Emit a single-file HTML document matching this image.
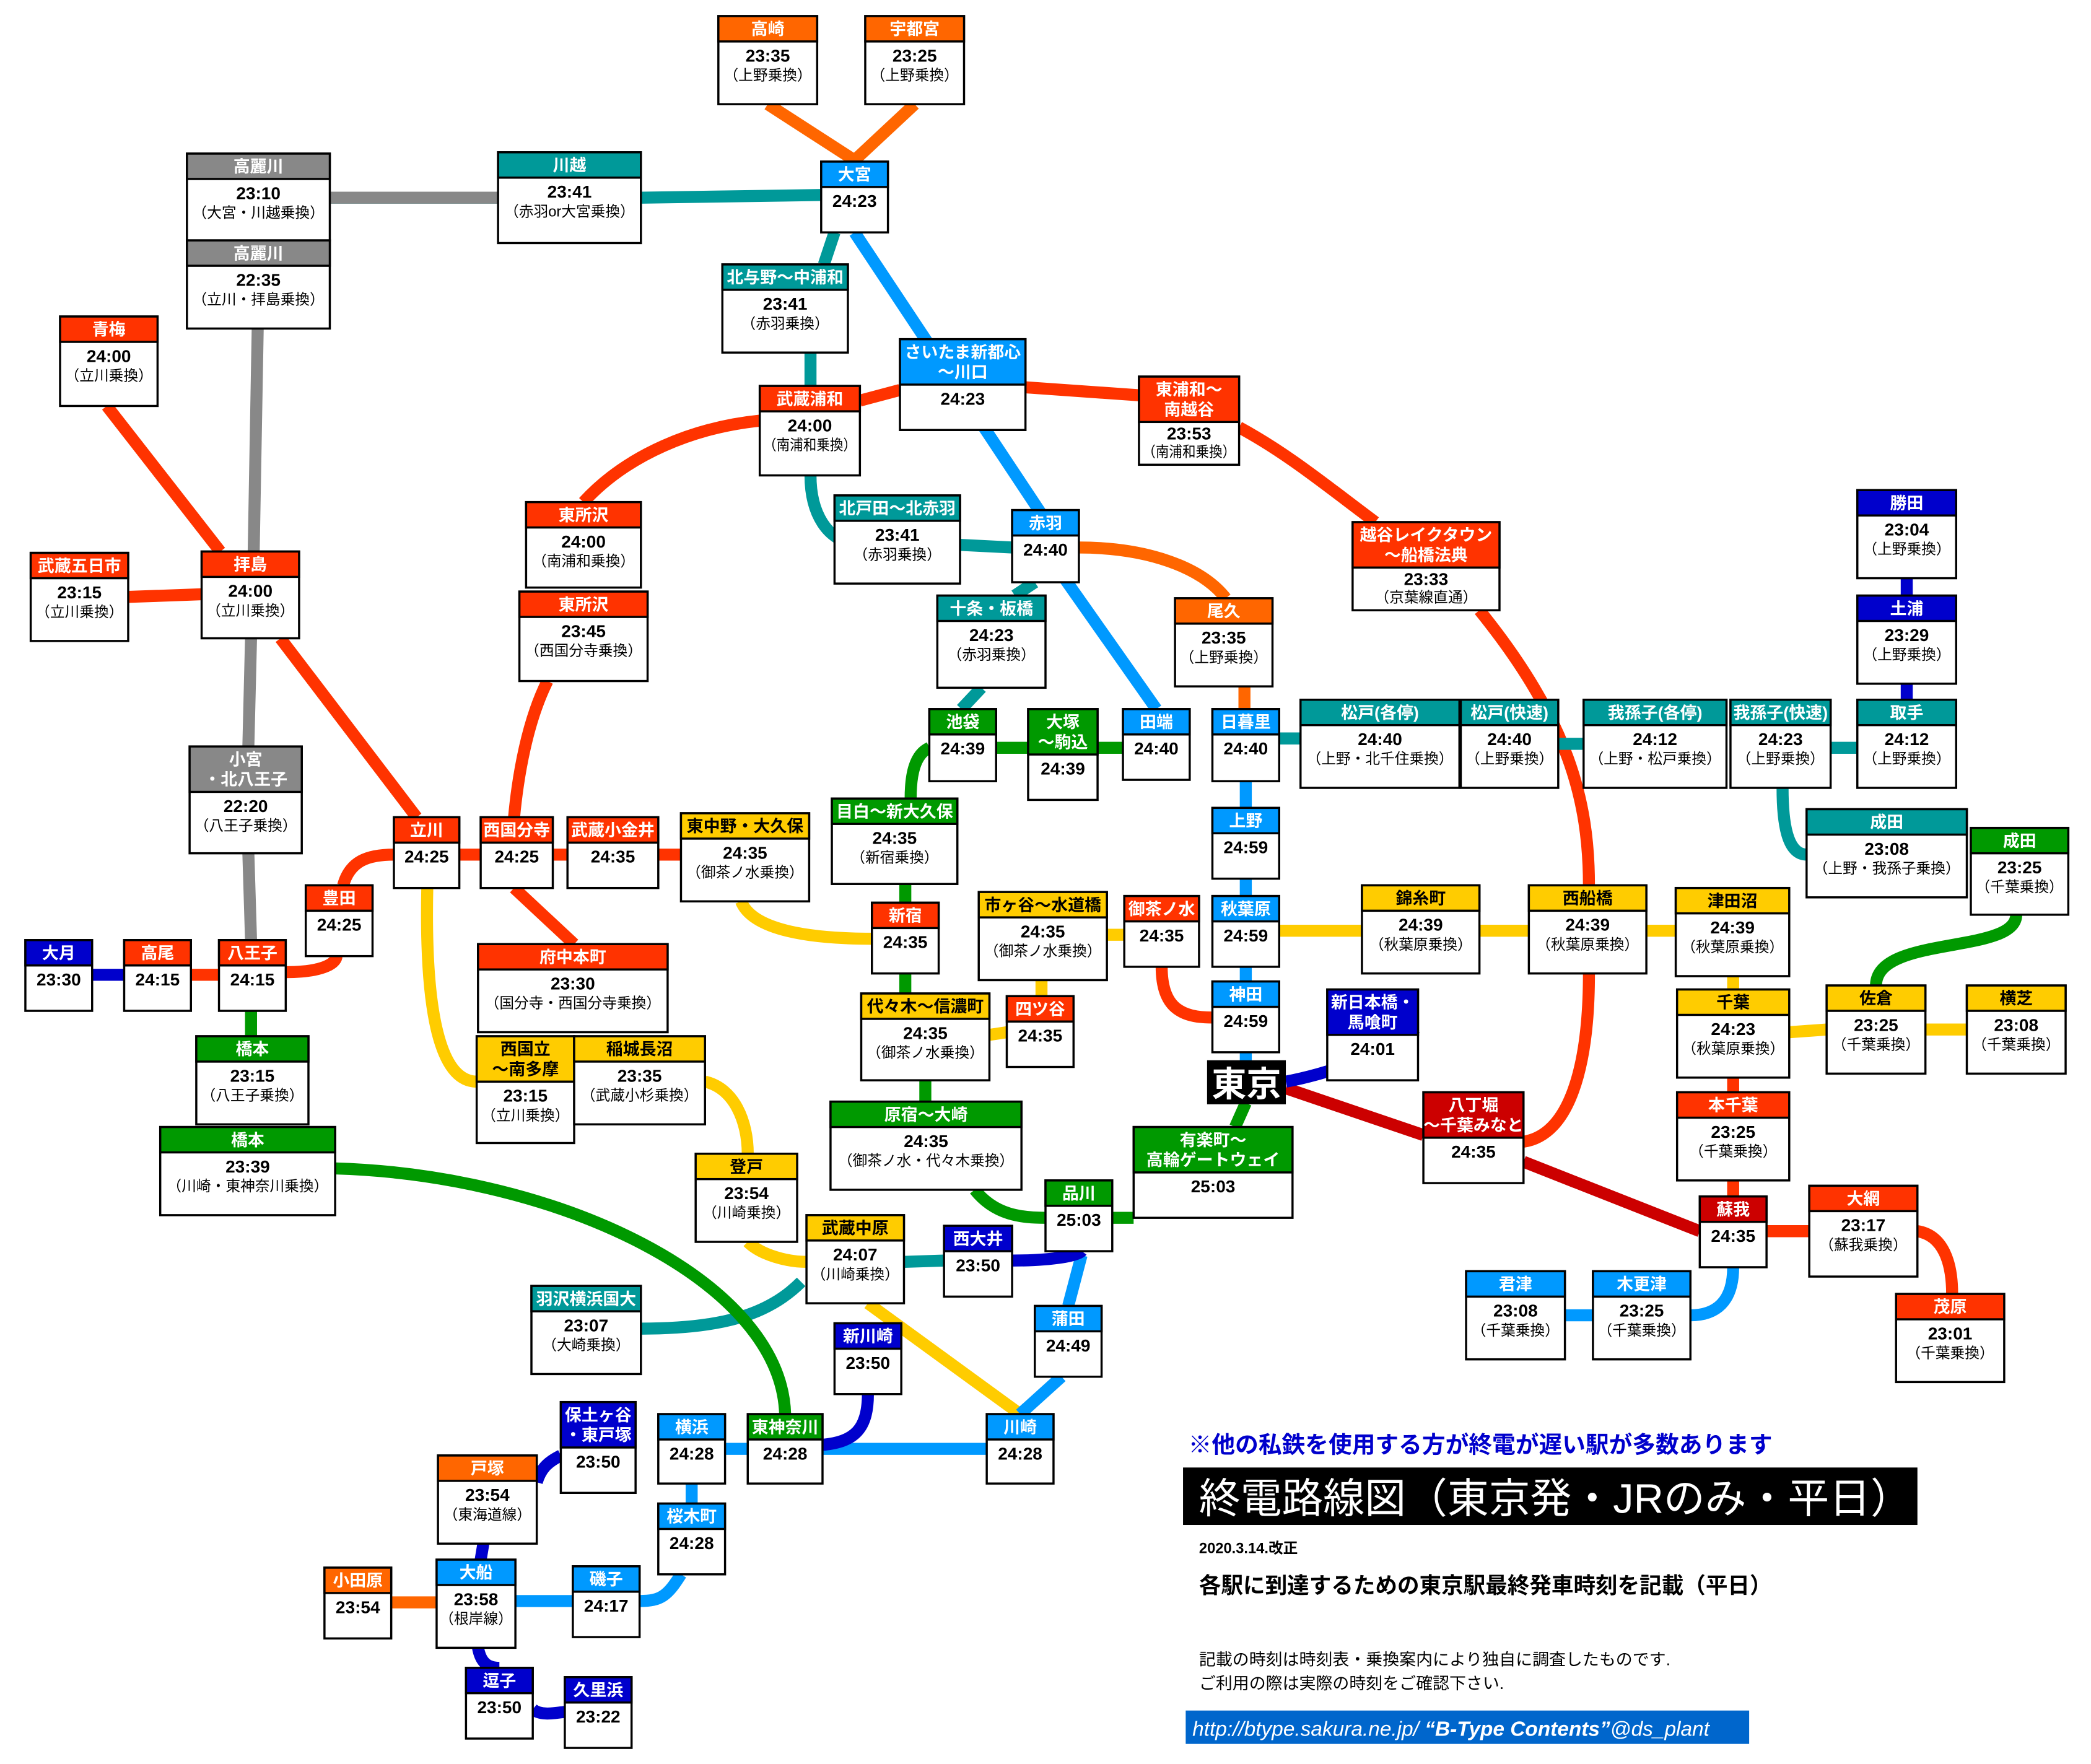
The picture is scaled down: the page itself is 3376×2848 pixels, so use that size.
<!DOCTYPE html>
<html><head><meta charset="utf-8">
<style>
html,body{margin:0;padding:0;background:#fff;}
svg{display:block;}
text{font-family:"Liberation Sans","Noto Sans CJK JP",sans-serif;text-anchor:middle;}
.h{font-size:12.5px;font-weight:bold;fill:#fff;}
.hk{font-size:12.5px;font-weight:bold;fill:#000;}
.t{font-size:13px;font-weight:bold;fill:#000;}
.n{font-size:11px;fill:#000;}
.b{fill:#fff;stroke:#000;stroke-width:1.6;}
.l{fill:none;stroke-width:9;stroke-linecap:butt;}
</style></head><body>
<svg width="3376" height="2848" viewBox="0 0 1566 1321" xmlns="http://www.w3.org/2000/svg">
<rect width="1566" height="1321" fill="#fff"/>
<!-- LINES -->
<g class="lines">
<path class="l" stroke="#f60" d="M575,78 L640,120 L685,78"/>
<path class="l" stroke="#099" d="M247,148 L373,148 M480,148 L615,146"/>
<path class="l" stroke="#888" d="M247,148 L373,148"/>
<path class="l" stroke="#09f" d="M640,174 L790,400 M795,430 L866,531 M933,584 L933,605 M933,658 L933,671 M933,724 L933,735 M933,788 L933,796"/>
<path class="l" stroke="#099" d="M625,174 L617,198 M607,264 L607,289 M607,356 C607,385 620,405 640,407 M719,408 L758,410 M775,436 L760,446 M735,515 L720,531"/>
<path class="l" stroke="#f60" d="M808,410 C860,410 900,425 918,448 M932,514 L932,531"/>
<path class="l" stroke="#090" d="M696,560 C685,565 682,580 682,598 M746,560 L770,560 M822,560 L841,560 M678,662 L678,676 M678,729 L678,744 M693,809 L693,825 M730,891 C745,910 765,912 783,912 M833,912 L849,912 M925,844 L933,826"/>
<path class="l" stroke="#f30" d="M437,376 C470,340 520,320 569,315 M644,300 L674,292 M768,290 L853,296 M928,320 C965,340 995,365 1030,391 M410,510 C395,540 388,580 385,612 M385,665 L430,707 M1108,457 C1175,540 1190,600 1190,663 M1190,729 C1190,800 1175,850 1141,855"/>
<path class="l" stroke="#888" d="M193,246 L190,413 M188,478 L186,559 M186,639 L188,704"/>
<path class="l" stroke="#f30" d="M80,304 L165,413 M96,447 L151,445 M210,478 L312,612"/>
<path class="l" stroke="#f30" d="M214,728 C245,728 252,720 252,716 M257,663 C262,645 275,640 295,640 M344,640 L360,640 M414,640 L425,640 M493,640 L510,640 M143,730 L164,730"/>
<path class="l" stroke="#00c" d="M69,730 L93,730 M1428,433 L1428,446 M1428,512 L1428,524"/>
<path class="l" stroke="#090" d="M188,757 L188,776"/>
<path class="l" stroke="#fc0" d="M555,675 C565,700 620,703 653,703 M741,775 L754,773 M829,700 L842,700 M958,697 L1020,697 M1108,697 L1145,697 M1233,697 L1255,697 M1298,731 L1298,741 M1340,773 L1368,771 M1442,771 L1473,771 M780,734 L780,746 M320,665 C318,760 330,810 357,810 M528,810 C550,815 560,840 560,864 M560,930 C570,940 590,945 604,945 M650,976 L764,1059"/>
<path class="l" stroke="#f30" d="M870,724 C870,755 885,762 908,762 M1298,807 L1298,818 M1298,884 L1298,896 M1323,922 L1355,922 M1436,922 C1455,925 1462,945 1462,969"/>
<path class="l" stroke="#c00" d="M963,815 L1066,850 M1141,870 L1273,922"/>
<path class="l" stroke="#09f" d="M1298,949 C1298,975 1285,985 1266,985 M1172,985 L1193,985 M810,940 L800,978 M795,1031 L764,1059 M739,1085 L616,1085 M560,1085 L543,1085 M518,1111 L518,1126 M510,1179 C500,1195 495,1199 479,1199 M429,1199 L386,1199"/>
<path class="l" stroke="#00c" d="M963,810 C990,805 1040,790 1060,770 M758,944 C790,944 808,940 810,937 M650,1044 C650,1070 640,1080 616,1082 M420,1090 C410,1095 405,1100 402,1110 M362,1156 L360,1168 M358,1234 C360,1245 365,1249 374,1249 M399,1280 C405,1285 415,1283 423,1282"/>
<path class="l" stroke="#099" d="M958,553 L974,553 M1167,557 L1186,557 M1371,560 L1391,560 M1335,590 C1335,615 1338,640 1353,640 M480,995 C540,995 575,985 600,960 M677,945 L707,944"/>
<path class="l" stroke="#090" d="M1510,685 C1510,715 1405,700 1405,738 M251,875 C420,880 585,960 588,1059"/>
<path class="l" stroke="#f60" d="M293,1200 L327,1200"/>
</g>
<!-- BOXES -->
<svg x="538" y="12" width="74" height="66" overflow="visible"><rect class="b" width="100%" height="100%"/><rect class="b" width="100%" height="19" fill="#f60" style="fill:#f60"/><text x="50%" y="14" class="h">高崎</text><text x="50%" y="34" class="t">23:35</text><text x="50%" y="48" class="n">（上野乗換）</text></svg>
<svg x="648" y="12" width="74" height="66" overflow="visible"><rect class="b" width="100%" height="100%"/><rect class="b" width="100%" height="19" style="fill:#f60"/><text x="50%" y="14" class="h">宇都宮</text><text x="50%" y="34" class="t">23:25</text><text x="50%" y="48" class="n">（上野乗換）</text></svg>
<svg x="615" y="121" width="50" height="53" overflow="visible"><rect class="b" width="100%" height="100%"/><rect class="b" width="100%" height="19" style="fill:#09f"/><text x="50%" y="14" class="h">大宮</text><text x="50%" y="34" class="t">24:23</text></svg>
<svg x="373" y="114" width="107" height="68" overflow="visible"><rect class="b" width="100%" height="100%"/><rect class="b" width="100%" height="19" style="fill:#099"/><text x="50%" y="14" class="h">川越</text><text x="50%" y="34" class="t">23:41</text><text x="50%" y="48" class="n">（赤羽or大宮乗換）</text></svg>
<svg x="140" y="115" width="107" height="65" overflow="visible"><rect class="b" width="100%" height="100%"/><rect class="b" width="100%" height="19" style="fill:#888"/><text x="50%" y="14" class="h">高麗川</text><text x="50%" y="34" class="t">23:10</text><text x="50%" y="48" class="n">（大宮・川越乗換）</text></svg>
<svg x="140" y="180" width="107" height="66" overflow="visible"><rect class="b" width="100%" height="100%"/><rect class="b" width="100%" height="19" style="fill:#888"/><text x="50%" y="14" class="h">高麗川</text><text x="50%" y="34" class="t">22:35</text><text x="50%" y="48" class="n">（立川・拝島乗換）</text></svg>
<svg x="45" y="237" width="73" height="67" overflow="visible"><rect class="b" width="100%" height="100%"/><rect class="b" width="100%" height="19" style="fill:#f30"/><text x="50%" y="14" class="h">青梅</text><text x="50%" y="34" class="t">24:00</text><text x="50%" y="48" class="n">（立川乗換）</text></svg>
<svg x="541" y="198" width="94" height="66" overflow="visible"><rect class="b" width="100%" height="100%"/><rect class="b" width="100%" height="19" style="fill:#099"/><text x="50%" y="14" class="h">北与野～中浦和</text><text x="50%" y="34" class="t">23:41</text><text x="50%" y="48" class="n">（赤羽乗換）</text></svg>
<svg x="674" y="254" width="94" height="68" overflow="visible"><rect class="b" width="100%" height="100%"/><rect class="b" width="100%" height="34" style="fill:#09f"/><text x="50%" y="14" class="h">さいたま新都心</text><text x="50%" y="29" class="h">～川口</text><text x="50%" y="49" class="t">24:23</text></svg>
<svg x="569" y="289" width="75" height="67" overflow="visible"><rect class="b" width="100%" height="100%"/><rect class="b" width="100%" height="19" style="fill:#f30"/><text x="50%" y="14" class="h">武蔵浦和</text><text x="50%" y="34" class="t">24:00</text><text x="50%" y="48" class="n" textLength="70" lengthAdjust="spacingAndGlyphs">（南浦和乗換）</text></svg>
<svg x="853" y="282" width="75" height="66" overflow="visible"><rect class="b" width="100%" height="100%"/><rect class="b" width="100%" height="34" style="fill:#f30"/><text x="50%" y="14" class="h">東浦和～</text><text x="50%" y="29" class="h">南越谷</text><text x="50%" y="47" class="t">23:53</text><text x="50%" y="60" class="n" textLength="70" lengthAdjust="spacingAndGlyphs">（南浦和乗換）</text></svg>
<svg x="394" y="376" width="86" height="64" overflow="visible"><rect class="b" width="100%" height="100%"/><rect class="b" width="100%" height="19" style="fill:#f30"/><text x="50%" y="14" class="h">東所沢</text><text x="50%" y="34" class="t">24:00</text><text x="50%" y="48" class="n">（南浦和乗換）</text></svg>
<svg x="389" y="443" width="96" height="67" overflow="visible"><rect class="b" width="100%" height="100%"/><rect class="b" width="100%" height="19" style="fill:#f30"/><text x="50%" y="14" class="h">東所沢</text><text x="50%" y="34" class="t">23:45</text><text x="50%" y="48" class="n">（西国分寺乗換）</text></svg>
<svg x="625" y="371" width="94" height="66" overflow="visible"><rect class="b" width="100%" height="100%"/><rect class="b" width="100%" height="19" style="fill:#099"/><text x="50%" y="14" class="h">北戸田～北赤羽</text><text x="50%" y="34" class="t">23:41</text><text x="50%" y="48" class="n">（赤羽乗換）</text></svg>
<svg x="758" y="382" width="50" height="54" overflow="visible"><rect class="b" width="100%" height="100%"/><rect class="b" width="100%" height="19" style="fill:#09f"/><text x="50%" y="14" class="h">赤羽</text><text x="50%" y="34" class="t">24:40</text></svg>
<svg x="1013" y="391" width="110" height="66" overflow="visible"><rect class="b" width="100%" height="100%"/><rect class="b" width="100%" height="34" style="fill:#f30"/><text x="50%" y="14" class="h">越谷レイクタウン</text><text x="50%" y="29" class="h">～船橋法典</text><text x="50%" y="47" class="t">23:33</text><text x="50%" y="60" class="n">（京葉線直通）</text></svg>
<svg x="1391" y="367" width="74" height="66" overflow="visible"><rect class="b" width="100%" height="100%"/><rect class="b" width="100%" height="19" style="fill:#00c"/><text x="50%" y="14" class="h">勝田</text><text x="50%" y="34" class="t">23:04</text><text x="50%" y="48" class="n">（上野乗換）</text></svg>
<svg x="1391" y="446" width="74" height="66" overflow="visible"><rect class="b" width="100%" height="100%"/><rect class="b" width="100%" height="19" style="fill:#00c"/><text x="50%" y="14" class="h">土浦</text><text x="50%" y="34" class="t">23:29</text><text x="50%" y="48" class="n">（上野乗換）</text></svg>
<svg x="151" y="413" width="73" height="65" overflow="visible"><rect class="b" width="100%" height="100%"/><rect class="b" width="100%" height="19" style="fill:#f30"/><text x="50%" y="14" class="h">拝島</text><text x="50%" y="34" class="t">24:00</text><text x="50%" y="48" class="n">（立川乗換）</text></svg>
<svg x="23" y="414" width="73" height="66" overflow="visible"><rect class="b" width="100%" height="100%"/><rect class="b" width="100%" height="19" style="fill:#f30"/><text x="50%" y="14" class="h">武蔵五日市</text><text x="50%" y="34" class="t">23:15</text><text x="50%" y="48" class="n">（立川乗換）</text></svg>
<svg x="702" y="446" width="81" height="69" overflow="visible"><rect class="b" width="100%" height="100%"/><rect class="b" width="100%" height="19" style="fill:#099"/><text x="50%" y="14" class="h">十条・板橋</text><text x="50%" y="34" class="t">24:23</text><text x="50%" y="48" class="n">（赤羽乗換）</text></svg>
<svg x="880" y="448" width="73" height="66" overflow="visible"><rect class="b" width="100%" height="100%"/><rect class="b" width="100%" height="19" style="fill:#f60"/><text x="50%" y="14" class="h">尾久</text><text x="50%" y="34" class="t">23:35</text><text x="50%" y="48" class="n">（上野乗換）</text></svg>
<svg x="696" y="531" width="50" height="54" overflow="visible"><rect class="b" width="100%" height="100%"/><rect class="b" width="100%" height="19" style="fill:#090"/><text x="50%" y="14" class="h">池袋</text><text x="50%" y="34" class="t">24:39</text></svg>
<svg x="770" y="531" width="52" height="68" overflow="visible"><rect class="b" width="100%" height="100%"/><rect class="b" width="100%" height="34" style="fill:#090"/><text x="50%" y="14" class="h">大塚</text><text x="50%" y="29" class="h">～駒込</text><text x="50%" y="49" class="t">24:39</text></svg>
<svg x="841" y="531" width="50" height="53" overflow="visible"><rect class="b" width="100%" height="100%"/><rect class="b" width="100%" height="19" style="fill:#09f"/><text x="50%" y="14" class="h">田端</text><text x="50%" y="34" class="t">24:40</text></svg>
<svg x="908" y="531" width="50" height="54" overflow="visible"><rect class="b" width="100%" height="100%"/><rect class="b" width="100%" height="19" style="fill:#09f"/><text x="50%" y="14" class="h">日暮里</text><text x="50%" y="34" class="t">24:40</text></svg>
<svg x="974" y="524" width="119" height="66" overflow="visible"><rect class="b" width="100%" height="100%"/><rect class="b" width="100%" height="19" style="fill:#099"/><text x="50%" y="14" class="h">松戸(各停)</text><text x="50%" y="34" class="t">24:40</text><text x="50%" y="48" class="n">（上野・北千住乗換）</text></svg>
<svg x="1094" y="524" width="73" height="66" overflow="visible"><rect class="b" width="100%" height="100%"/><rect class="b" width="100%" height="19" style="fill:#099"/><text x="50%" y="14" class="h">松戸(快速)</text><text x="50%" y="34" class="t">24:40</text><text x="50%" y="48" class="n">（上野乗換）</text></svg>
<svg x="1186" y="524" width="107" height="66" overflow="visible"><rect class="b" width="100%" height="100%"/><rect class="b" width="100%" height="19" style="fill:#099"/><text x="50%" y="14" class="h">我孫子(各停)</text><text x="50%" y="34" class="t">24:12</text><text x="50%" y="48" class="n">（上野・松戸乗換）</text></svg>
<svg x="1296" y="524" width="75" height="66" overflow="visible"><rect class="b" width="100%" height="100%"/><rect class="b" width="100%" height="19" style="fill:#099"/><text x="50%" y="14" class="h">我孫子(快速)</text><text x="50%" y="34" class="t">24:23</text><text x="50%" y="48" class="n">（上野乗換）</text></svg>
<svg x="1391" y="524" width="74" height="66" overflow="visible"><rect class="b" width="100%" height="100%"/><rect class="b" width="100%" height="19" style="fill:#099"/><text x="50%" y="14" class="h">取手</text><text x="50%" y="34" class="t">24:12</text><text x="50%" y="48" class="n">（上野乗換）</text></svg>
<svg x="142" y="559" width="84" height="80" overflow="visible"><rect class="b" width="100%" height="100%"/><rect class="b" width="100%" height="34" style="fill:#888"/><text x="50%" y="14" class="h">小宮</text><text x="50%" y="29" class="h">・北八王子</text><text x="50%" y="49" class="t">22:20</text><text x="50%" y="63" class="n">（八王子乗換）</text></svg>
<svg x="623" y="598" width="94" height="64" overflow="visible"><rect class="b" width="100%" height="100%"/><rect class="b" width="100%" height="19" style="fill:#090"/><text x="50%" y="14" class="h">目白～新大久保</text><text x="50%" y="34" class="t">24:35</text><text x="50%" y="48" class="n">（新宿乗換）</text></svg>
<svg x="1353" y="606" width="120" height="66" overflow="visible"><rect class="b" width="100%" height="100%"/><rect class="b" width="100%" height="19" style="fill:#099"/><text x="50%" y="14" class="h">成田</text><text x="50%" y="34" class="t">23:08</text><text x="50%" y="48" class="n">（上野・我孫子乗換）</text></svg>
<svg x="1476" y="620" width="73" height="65" overflow="visible"><rect class="b" width="100%" height="100%"/><rect class="b" width="100%" height="19" style="fill:#090"/><text x="50%" y="14" class="h">成田</text><text x="50%" y="34" class="t">23:25</text><text x="50%" y="48" class="n">（千葉乗換）</text></svg>
<svg x="295" y="612" width="49" height="53" overflow="visible"><rect class="b" width="100%" height="100%"/><rect class="b" width="100%" height="19" style="fill:#f30"/><text x="50%" y="14" class="h">立川</text><text x="50%" y="34" class="t">24:25</text></svg>
<svg x="360" y="612" width="54" height="53" overflow="visible"><rect class="b" width="100%" height="100%"/><rect class="b" width="100%" height="19" style="fill:#f30"/><text x="50%" y="14" class="h">西国分寺</text><text x="50%" y="34" class="t">24:25</text></svg>
<svg x="425" y="612" width="68" height="53" overflow="visible"><rect class="b" width="100%" height="100%"/><rect class="b" width="100%" height="19" style="fill:#f30"/><text x="50%" y="14" class="h">武蔵小金井</text><text x="50%" y="34" class="t">24:35</text></svg>
<svg x="510" y="609" width="96" height="66" overflow="visible"><rect class="b" width="100%" height="100%"/><rect class="b" width="100%" height="19" style="fill:#fc0"/><text x="50%" y="14" class="hk">東中野・大久保</text><text x="50%" y="34" class="t">24:35</text><text x="50%" y="48" class="n">（御茶ノ水乗換）</text></svg>
<svg x="229" y="663" width="50" height="53" overflow="visible"><rect class="b" width="100%" height="100%"/><rect class="b" width="100%" height="19" style="fill:#f30"/><text x="50%" y="14" class="h">豊田</text><text x="50%" y="34" class="t">24:25</text></svg>
<svg x="653" y="676" width="50" height="53" overflow="visible"><rect class="b" width="100%" height="100%"/><rect class="b" width="100%" height="19" style="fill:#f30"/><text x="50%" y="14" class="h">新宿</text><text x="50%" y="34" class="t">24:35</text></svg>
<svg x="733" y="668" width="96" height="66" overflow="visible"><rect class="b" width="100%" height="100%"/><rect class="b" width="100%" height="19" style="fill:#fc0"/><text x="50%" y="14" class="hk">市ヶ谷～水道橋</text><text x="50%" y="34" class="t">24:35</text><text x="50%" y="48" class="n">（御茶ノ水乗換）</text></svg>
<svg x="842" y="671" width="56" height="53" overflow="visible"><rect class="b" width="100%" height="100%"/><rect class="b" width="100%" height="19" style="fill:#f30"/><text x="50%" y="14" class="h">御茶ノ水</text><text x="50%" y="34" class="t">24:35</text></svg>
<svg x="908" y="605" width="50" height="53" overflow="visible"><rect class="b" width="100%" height="100%"/><rect class="b" width="100%" height="19" style="fill:#09f"/><text x="50%" y="14" class="h">上野</text><text x="50%" y="34" class="t">24:59</text></svg>
<svg x="908" y="671" width="50" height="53" overflow="visible"><rect class="b" width="100%" height="100%"/><rect class="b" width="100%" height="19" style="fill:#09f"/><text x="50%" y="14" class="h">秋葉原</text><text x="50%" y="34" class="t">24:59</text></svg>
<svg x="1020" y="663" width="88" height="66" overflow="visible"><rect class="b" width="100%" height="100%"/><rect class="b" width="100%" height="19" style="fill:#fc0"/><text x="50%" y="14" class="hk">錦糸町</text><text x="50%" y="34" class="t">24:39</text><text x="50%" y="48" class="n">（秋葉原乗換）</text></svg>
<svg x="1145" y="663" width="88" height="66" overflow="visible"><rect class="b" width="100%" height="100%"/><rect class="b" width="100%" height="19" style="fill:#fc0"/><text x="50%" y="14" class="hk">西船橋</text><text x="50%" y="34" class="t">24:39</text><text x="50%" y="48" class="n">（秋葉原乗換）</text></svg>
<svg x="1255" y="665" width="85" height="66" overflow="visible"><rect class="b" width="100%" height="100%"/><rect class="b" width="100%" height="19" style="fill:#fc0"/><text x="50%" y="14" class="hk">津田沼</text><text x="50%" y="34" class="t">24:39</text><text x="50%" y="48" class="n">（秋葉原乗換）</text></svg>
<svg x="19" y="704" width="50" height="53" overflow="visible"><rect class="b" width="100%" height="100%"/><rect class="b" width="100%" height="19" style="fill:#00c"/><text x="50%" y="14" class="h">大月</text><text x="50%" y="34" class="t">23:30</text></svg>
<svg x="93" y="704" width="50" height="53" overflow="visible"><rect class="b" width="100%" height="100%"/><rect class="b" width="100%" height="19" style="fill:#f30"/><text x="50%" y="14" class="h">高尾</text><text x="50%" y="34" class="t">24:15</text></svg>
<svg x="164" y="704" width="50" height="53" overflow="visible"><rect class="b" width="100%" height="100%"/><rect class="b" width="100%" height="19" style="fill:#f30"/><text x="50%" y="14" class="h">八王子</text><text x="50%" y="34" class="t">24:15</text></svg>
<svg x="358" y="707" width="142" height="66" overflow="visible"><rect class="b" width="100%" height="100%"/><rect class="b" width="100%" height="19" style="fill:#f30"/><text x="50%" y="14" class="h">府中本町</text><text x="50%" y="34" class="t">23:30</text><text x="50%" y="48" class="n">（国分寺・西国分寺乗換）</text></svg>
<svg x="645" y="744" width="96" height="65" overflow="visible"><rect class="b" width="100%" height="100%"/><rect class="b" width="100%" height="19" style="fill:#fc0"/><text x="50%" y="14" class="hk">代々木～信濃町</text><text x="50%" y="34" class="t">24:35</text><text x="50%" y="48" class="n">（御茶ノ水乗換）</text></svg>
<svg x="754" y="746" width="50" height="53" overflow="visible"><rect class="b" width="100%" height="100%"/><rect class="b" width="100%" height="19" style="fill:#f30"/><text x="50%" y="14" class="h">四ツ谷</text><text x="50%" y="34" class="t">24:35</text></svg>
<svg x="908" y="735" width="50" height="53" overflow="visible"><rect class="b" width="100%" height="100%"/><rect class="b" width="100%" height="19" style="fill:#09f"/><text x="50%" y="14" class="h">神田</text><text x="50%" y="34" class="t">24:59</text></svg>
<svg x="994" y="741" width="68" height="68" overflow="visible"><rect class="b" width="100%" height="100%"/><rect class="b" width="100%" height="34" style="fill:#00c"/><text x="50%" y="14" class="h">新日本橋・</text><text x="50%" y="29" class="h">馬喰町</text><text x="50%" y="49" class="t">24:01</text></svg>
<svg x="1256" y="741" width="84" height="66" overflow="visible"><rect class="b" width="100%" height="100%"/><rect class="b" width="100%" height="19" style="fill:#fc0"/><text x="50%" y="14" class="hk">千葉</text><text x="50%" y="34" class="t">24:23</text><text x="50%" y="48" class="n">（秋葉原乗換）</text></svg>
<svg x="1368" y="738" width="74" height="66" overflow="visible"><rect class="b" width="100%" height="100%"/><rect class="b" width="100%" height="19" style="fill:#fc0"/><text x="50%" y="14" class="hk">佐倉</text><text x="50%" y="34" class="t">23:25</text><text x="50%" y="48" class="n">（千葉乗換）</text></svg>
<svg x="1473" y="738" width="74" height="66" overflow="visible"><rect class="b" width="100%" height="100%"/><rect class="b" width="100%" height="19" style="fill:#fc0"/><text x="50%" y="14" class="hk">横芝</text><text x="50%" y="34" class="t">23:08</text><text x="50%" y="48" class="n">（千葉乗換）</text></svg>
<svg x="147" y="776" width="84" height="66" overflow="visible"><rect class="b" width="100%" height="100%"/><rect class="b" width="100%" height="19" style="fill:#090"/><text x="50%" y="14" class="h">橋本</text><text x="50%" y="34" class="t">23:15</text><text x="50%" y="48" class="n">（八王子乗換）</text></svg>
<svg x="357" y="776" width="73" height="80" overflow="visible"><rect class="b" width="100%" height="100%"/><rect class="b" width="100%" height="34" style="fill:#fc0"/><text x="50%" y="14" class="hk">西国立</text><text x="50%" y="29" class="hk">～南多摩</text><text x="50%" y="49" class="t">23:15</text><text x="50%" y="63" class="n">（立川乗換）</text></svg>
<svg x="430" y="776" width="98" height="66" overflow="visible"><rect class="b" width="100%" height="100%"/><rect class="b" width="100%" height="19" style="fill:#fc0"/><text x="50%" y="14" class="hk">稲城長沼</text><text x="50%" y="34" class="t">23:35</text><text x="50%" y="48" class="n">（武蔵小杉乗換）</text></svg>
<svg x="1256" y="818" width="84" height="66" overflow="visible"><rect class="b" width="100%" height="100%"/><rect class="b" width="100%" height="19" style="fill:#f30"/><text x="50%" y="14" class="h">本千葉</text><text x="50%" y="34" class="t">23:25</text><text x="50%" y="48" class="n">（千葉乗換）</text></svg>
<svg x="1066" y="818" width="75" height="68" overflow="visible"><rect class="b" width="100%" height="100%"/><rect class="b" width="100%" height="34" style="fill:#c00"/><text x="50%" y="14" class="h">八丁堀</text><text x="50%" y="29" class="h">～千葉みなと</text><text x="50%" y="49" class="t">24:35</text></svg>
<svg x="622" y="825" width="143" height="66" overflow="visible"><rect class="b" width="100%" height="100%"/><rect class="b" width="100%" height="19" style="fill:#090"/><text x="50%" y="14" class="h">原宿～大崎</text><text x="50%" y="34" class="t">24:35</text><text x="50%" y="48" class="n">（御茶ノ水・代々木乗換）</text></svg>
<svg x="120" y="844" width="131" height="66" overflow="visible"><rect class="b" width="100%" height="100%"/><rect class="b" width="100%" height="19" style="fill:#090"/><text x="50%" y="14" class="h">橋本</text><text x="50%" y="34" class="t">23:39</text><text x="50%" y="48" class="n">（川崎・東神奈川乗換）</text></svg>
<svg x="849" y="844" width="119" height="68" overflow="visible"><rect class="b" width="100%" height="100%"/><rect class="b" width="100%" height="34" style="fill:#090"/><text x="50%" y="14" class="h">有楽町～</text><text x="50%" y="29" class="h">高輪ゲートウェイ</text><text x="50%" y="49" class="t">25:03</text></svg>
<svg x="521" y="864" width="76" height="66" overflow="visible"><rect class="b" width="100%" height="100%"/><rect class="b" width="100%" height="19" style="fill:#fc0"/><text x="50%" y="14" class="hk">登戸</text><text x="50%" y="34" class="t">23:54</text><text x="50%" y="48" class="n">（川崎乗換）</text></svg>
<svg x="783" y="884" width="50" height="53" overflow="visible"><rect class="b" width="100%" height="100%"/><rect class="b" width="100%" height="19" style="fill:#090"/><text x="50%" y="14" class="h">品川</text><text x="50%" y="34" class="t">25:03</text></svg>
<svg x="1273" y="896" width="50" height="53" overflow="visible"><rect class="b" width="100%" height="100%"/><rect class="b" width="100%" height="19" style="fill:#c00"/><text x="50%" y="14" class="h">蘇我</text><text x="50%" y="34" class="t">24:35</text></svg>
<svg x="1355" y="888" width="81" height="68" overflow="visible"><rect class="b" width="100%" height="100%"/><rect class="b" width="100%" height="19" style="fill:#f30"/><text x="50%" y="14" class="h">大網</text><text x="50%" y="34" class="t">23:17</text><text x="50%" y="48" class="n">（蘇我乗換）</text></svg>
<svg x="604" y="910" width="73" height="66" overflow="visible"><rect class="b" width="100%" height="100%"/><rect class="b" width="100%" height="19" style="fill:#fc0"/><text x="50%" y="14" class="hk">武蔵中原</text><text x="50%" y="34" class="t">24:07</text><text x="50%" y="48" class="n">（川崎乗換）</text></svg>
<svg x="707" y="918" width="51" height="53" overflow="visible"><rect class="b" width="100%" height="100%"/><rect class="b" width="100%" height="19" style="fill:#00c"/><text x="50%" y="14" class="h">西大井</text><text x="50%" y="34" class="t">23:50</text></svg>
<svg x="398" y="963" width="82" height="66" overflow="visible"><rect class="b" width="100%" height="100%"/><rect class="b" width="100%" height="19" style="fill:#099"/><text x="50%" y="14" class="h">羽沢横浜国大</text><text x="50%" y="34" class="t">23:07</text><text x="50%" y="48" class="n">（大崎乗換）</text></svg>
<svg x="1098" y="952" width="74" height="66" overflow="visible"><rect class="b" width="100%" height="100%"/><rect class="b" width="100%" height="19" style="fill:#09f"/><text x="50%" y="14" class="h">君津</text><text x="50%" y="34" class="t">23:08</text><text x="50%" y="48" class="n">（千葉乗換）</text></svg>
<svg x="1193" y="952" width="73" height="66" overflow="visible"><rect class="b" width="100%" height="100%"/><rect class="b" width="100%" height="19" style="fill:#09f"/><text x="50%" y="14" class="h">木更津</text><text x="50%" y="34" class="t">23:25</text><text x="50%" y="48" class="n">（千葉乗換）</text></svg>
<svg x="1420" y="969" width="81" height="66" overflow="visible"><rect class="b" width="100%" height="100%"/><rect class="b" width="100%" height="19" style="fill:#f30"/><text x="50%" y="14" class="h">茂原</text><text x="50%" y="34" class="t">23:01</text><text x="50%" y="48" class="n">（千葉乗換）</text></svg>
<svg x="775" y="978" width="50" height="53" overflow="visible"><rect class="b" width="100%" height="100%"/><rect class="b" width="100%" height="19" style="fill:#09f"/><text x="50%" y="14" class="h">蒲田</text><text x="50%" y="34" class="t">24:49</text></svg>
<svg x="625" y="991" width="50" height="53" overflow="visible"><rect class="b" width="100%" height="100%"/><rect class="b" width="100%" height="19" style="fill:#00c"/><text x="50%" y="14" class="h">新川崎</text><text x="50%" y="34" class="t">23:50</text></svg>
<svg x="420" y="1050" width="56" height="68" overflow="visible"><rect class="b" width="100%" height="100%"/><rect class="b" width="100%" height="34" style="fill:#00c"/><text x="50%" y="14" class="h">保土ヶ谷</text><text x="50%" y="29" class="h">・東戸塚</text><text x="50%" y="49" class="t">23:50</text></svg>
<svg x="493" y="1059" width="50" height="52" overflow="visible"><rect class="b" width="100%" height="100%"/><rect class="b" width="100%" height="19" style="fill:#09f"/><text x="50%" y="14" class="h">横浜</text><text x="50%" y="34" class="t">24:28</text></svg>
<svg x="560" y="1059" width="56" height="52" overflow="visible"><rect class="b" width="100%" height="100%"/><rect class="b" width="100%" height="19" style="fill:#090"/><text x="50%" y="14" class="h">東神奈川</text><text x="50%" y="34" class="t">24:28</text></svg>
<svg x="739" y="1059" width="50" height="52" overflow="visible"><rect class="b" width="100%" height="100%"/><rect class="b" width="100%" height="19" style="fill:#09f"/><text x="50%" y="14" class="h">川崎</text><text x="50%" y="34" class="t">24:28</text></svg>
<svg x="328" y="1090" width="74" height="66" overflow="visible"><rect class="b" width="100%" height="100%"/><rect class="b" width="100%" height="19" style="fill:#f60"/><text x="50%" y="14" class="h">戸塚</text><text x="50%" y="34" class="t">23:54</text><text x="50%" y="48" class="n">（東海道線）</text></svg>
<svg x="493" y="1126" width="50" height="53" overflow="visible"><rect class="b" width="100%" height="100%"/><rect class="b" width="100%" height="19" style="fill:#09f"/><text x="50%" y="14" class="h">桜木町</text><text x="50%" y="34" class="t">24:28</text></svg>
<svg x="243" y="1174" width="50" height="53" overflow="visible"><rect class="b" width="100%" height="100%"/><rect class="b" width="100%" height="19" style="fill:#f60"/><text x="50%" y="14" class="h">小田原</text><text x="50%" y="34" class="t">23:54</text></svg>
<svg x="327" y="1168" width="59" height="66" overflow="visible"><rect class="b" width="100%" height="100%"/><rect class="b" width="100%" height="19" style="fill:#09f"/><text x="50%" y="14" class="h">大船</text><text x="50%" y="34" class="t">23:58</text><text x="50%" y="48" class="n">（根岸線）</text></svg>
<svg x="429" y="1173" width="50" height="53" overflow="visible"><rect class="b" width="100%" height="100%"/><rect class="b" width="100%" height="19" style="fill:#09f"/><text x="50%" y="14" class="h">磯子</text><text x="50%" y="34" class="t">24:17</text></svg>
<svg x="349" y="1249" width="50" height="53" overflow="visible"><rect class="b" width="100%" height="100%"/><rect class="b" width="100%" height="19" style="fill:#00c"/><text x="50%" y="14" class="h">逗子</text><text x="50%" y="34" class="t">23:50</text></svg>
<svg x="423" y="1256" width="50" height="53" overflow="visible"><rect class="b" width="100%" height="100%"/><rect class="b" width="100%" height="19" style="fill:#00c"/><text x="50%" y="14" class="h">久里浜</text><text x="50%" y="34" class="t">23:22</text></svg>
<!-- Tokyo -->
<rect x="904" y="794" width="59" height="33" fill="#000"/>
<text x="933.5" y="821" style="font-size:26px;font-weight:bold;fill:#fff">東京</text>
<!-- Legend -->
<text x="890" y="1088" style="font-size:17.5px;font-weight:bold;fill:#00c;text-anchor:start">※他の私鉄を使用する方が終電が遅い駅が多数あります</text>
<rect x="886" y="1099" width="550" height="43" fill="#000"/>
<text x="898" y="1133" style="font-size:31px;fill:#fff;text-anchor:start">終電路線図（東京発・JRのみ・平日）</text>
<text x="898" y="1163" style="font-size:11px;font-weight:bold;fill:#000;text-anchor:start">2020.3.14.改正</text>
<text x="898" y="1193" style="font-size:16.5px;font-weight:bold;fill:#000;text-anchor:start">各駅に到達するための東京駅最終発車時刻を記載（平日）</text>
<text x="898" y="1247" style="font-size:12.5px;fill:#000;text-anchor:start">記載の時刻は時刻表・乗換案内により独自に調査したものです.</text>
<text x="898" y="1265" style="font-size:12.5px;fill:#000;text-anchor:start">ご利用の際は実際の時刻をご確認下さい.</text>
<rect x="888" y="1281" width="422" height="25" fill="#06c"/>
<text x="893" y="1300" style="font-size:15.5px;fill:#fff;font-style:italic;text-anchor:start">http://btype.sakura.ne.jp/ <tspan font-weight="bold">“B-Type Contents”</tspan>@ds_plant</text>
</svg>
</body></html>
